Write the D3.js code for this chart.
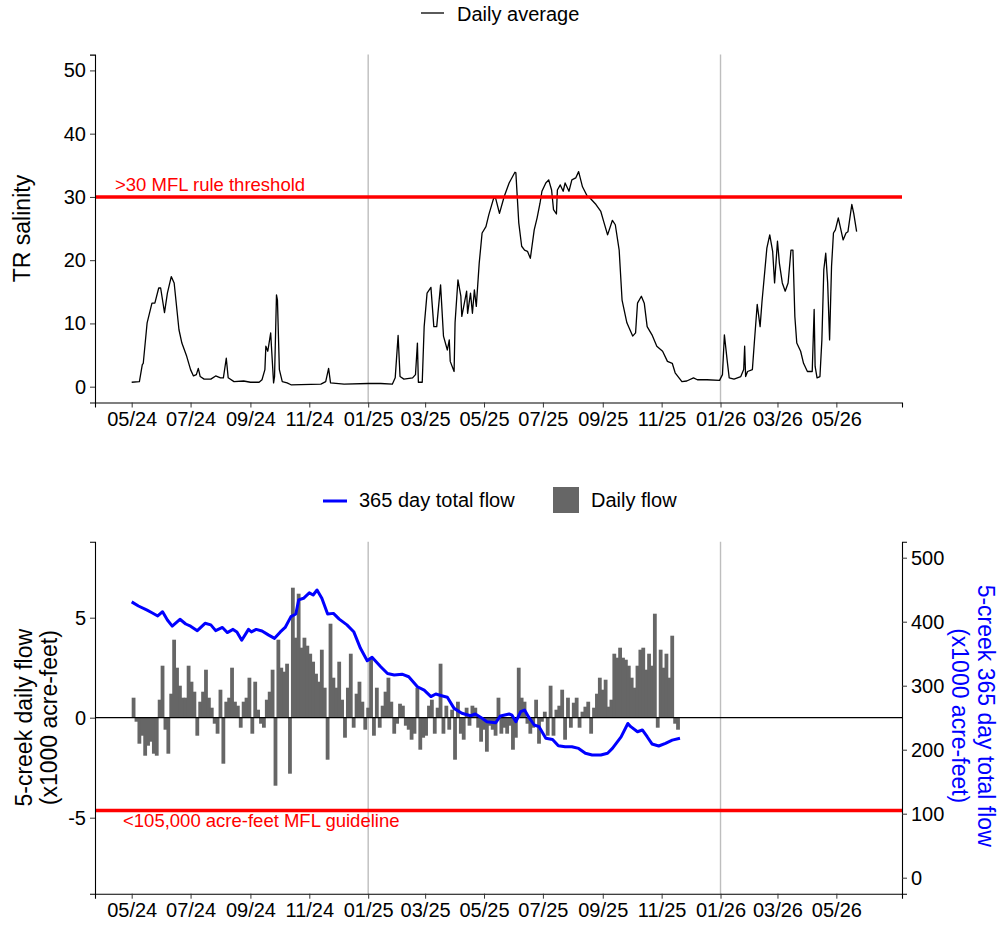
<!DOCTYPE html>
<html>
<head>
<meta charset="utf-8">
<script src="https://cdn.jsdelivr.net/npm/d3@7"></script>
<style>
  body { margin: 0; background: #fff; }
  svg { display: block; font-family: "Liberation Sans", Arial, sans-serif; }
</style>
</head>
<body>
<script>
// ---------------- DATA ----------------
// day index counted from 2024-05-01
const startDate = "2024-05-01";
const xTickLabels = ["2024-05","2024-07","2024-09","2024-11","2025-01","2025-03","2025-05","2025-07","2025-09","2025-11","2026-01","2026-03","2026-05"];
const yearLines = ["2025-01-01","2026-01-01"];
const salTicks = [0,10,20,30,40,50];
const flowTicks = [-5,0,5];
const totalTicks = [0,100,200,300,400,500];
const salThreshold = 30;
const flowGuideline = 105;

// TR salinity daily average: [day, value]
const salinity = [[0,0.7],[8,0.8],[11,3.5],[12,3.7],[16,10.1],[21,13.2],[24,13.2],[28,15.6],[30,15.6],[34,11.7],[37,14.8],[41,17.4],[44,16.4],[49,9.0],[52,6.9],[57,4.8],[61,2.7],[64,1.7],[67,1.9],[69,2.9],[71,1.6],[75,1.2],[82,1.2],[87,1.7],[92,1.4],[95,1.4],[98,4.5],[100,1.4],[106,0.8],[116,0.9],[123,0.7],[132,0.7],[135,1.1],[138,2.7],[139,6.4],[141,5.6],[144,8.5],[145,5.8],[147,0.6],[148,1.6],[150,14.5],[151,13.7],[153,2.7],[156,0.8],[161,0.6],[165,0.3],[196,0.4],[201,0.8],[204,2.9],[206,0.6],[220,0.4],[245,0.5],[258,0.5],[270,0.4],[273,1.4],[276,8.1],[278,1.6],[282,1.2],[291,1.4],[294,1.9],[296,6.9],[297,0.7],[301,0.7],[303,9.5],[306,14.8],[310,15.7],[313,9.5],[316,9.5],[320,16.1],[323,8.0],[327,5.8],[329,7.4],[330,4.0],[334,2.4],[335,10.1],[338,16.9],[341,14.3],[342,11.1],[347,15.1],[348,11.6],[351,14.8],[353,11.6],[355,15.3],[357,12.7],[360,19.5],[363,24.3],[367,25.3],[370,27.2],[375,29.8],[377,29.8],[381,27.4],[386,30.1],[391,32.2],[397,33.9],[398,33.8],[401,25.9],[404,22.2],[407,21.6],[410,21.4],[413,20.3],[417,24.8],[420,26.7],[423,29.0],[425,30.9],[429,32.2],[432,32.7],[435,31.1],[437,28.0],[440,27.3],[441,31.1],[444,31.9],[447,30.9],[449,32.2],[453,30.9],[456,32.7],[460,33.0],[463,34.0],[467,31.6],[472,30.1],[475,29.8],[481,28.8],[486,27.7],[489,26.1],[493,24.0],[498,26.3],[501,25.6],[505,21.6],[508,13.7],[513,10.1],[519,8.0],[522,8.5],[524,13.2],[528,14.3],[531,13.2],[534,9.5],[539,8.2],[544,6.4],[550,5.6],[555,4.0],[560,3.7],[563,2.2],[570,0.8],[575,0.9],[582,1.4],[586,1.1],[596,1.1],[609,1.0],[612,1.9],[614,8.2],[617,4.0],[619,1.4],[624,1.2],[631,1.6],[634,2.7],[635,6.4],[636,1.6],[638,2.4],[643,2.7],[645,6.9],[648,13.0],[651,9.5],[653,13.5],[656,18.5],[658,21.9],[661,24.0],[664,21.4],[666,16.4],[669,23.0],[671,19.5],[674,16.4],[677,15.1],[680,16.4],[683,21.6],[685,21.6],[687,11.1],[689,6.9],[693,5.6],[696,3.7],[700,2.4],[705,2.4],[707,12.2],[708,3.2],[710,1.4],[713,1.6],[715,7.4],[717,18.5],[719,21.1],[721,16.4],[723,7.4],[725,19.0],[727,24.3],[729,24.8],[732,26.7],[734,25.3],[737,23.2],[740,24.3],[742,24.5],[746,28.8],[748,27.4],[751,24.5]];

// 5-creek daily flow (x1000 acre-feet), one value per 3-day bin from start date
const flowBinDays = 3;
const dailyFlow = [1.0,-0.2,-1.3,-0.9,-1.9,-1.4,-1.2,-1.8,-1.9,0.9, 2.6,-0.6,-1.8,1.2,3.9,2.5,1.6,1.0,1.0,2.6, 1.8,1.3,-0.9,0.8,1.3,2.4,1.0,0.5,-0.3,-0.8, 1.4,-2.3,0.8,1.0,2.5,0.8,0.6,-0.5,0.8,1.0, 2.0,-0.8,1.8,0.4,-0.3,-0.5,0.9,1.3,2.4,-3.4, 3.9,2.5,2.3,2.7,-2.8,6.5,4.0,6.2,3.5,4.0, 3.6,
 3.2,2.8,2.2,1.8,3.4,1.5,-2.1,4.7,2.0,1.5, 2.8,0.9,-1.0,1.5,3.2,-0.5,1.2,1.8,0.8,-0.6, 0.5,3.0,-0.9,1.5,-0.5,0.6,1.3,2.0,0.8,-0.8, -0.3,0.7,0.6,-0.4,-0.6,-1.1,-0.8,1.5,-1.6,-1.0, -0.9,0.6,0.9,-0.8,0.5,2.7,-0.8,0.6,-0.6,0.4, -2.1,0.8,-0.8,-1.1,0.5,-0.4,0.6,0.5,-0.5,-1.2, -0.6,-1.7,-0.4,
 -0.6,-0.9,1.0,-0.8,-0.5,-0.8,-0.4,-1.6,-1.0,2.5, 1.0,0.8,-0.3,-0.8,-0.5,0.9,-1.3,-0.2,0.3,-0.9, 1.6,-0.9,0.4,0.6,1.4,-1.1,1.0,-0.5,0.75,1.0, -0.5,0.3,0.55,0.8,-0.8,0.5,1.2,2.0,1.4,1.9, 0.55,0.9,3.2,3.0,3.5,3.0,2.9,2.6,2.0,1.5, 2.6,3.4,3.5,2.4,3.2,2.6,5.2,-0.5,3.4,2.5, 3.2,2.0,4.1,-0.3,-0.6];

// 365 day total flow (x1000 acre-feet): [day, value]
const totalFlow = [[0,431],[7,424.5],[16,418],[21,414],[27,409],[32,415.6],[37,402.7],[42,393],[50,403.8],[56,396.4],[61,393],[68,386],[76,397.5],[82,395],[87,386],[94,391],[99,383],[105,388],[109,384],[114,371],[121,388],[124,384],[129,388],[135,385.5],[142,379],[148,374],[154,384],[159,391],[165,408],[170,412],[173,434],[178,436.6],[184,445],[188,441.7],[192,449.5],[197,436.6],[203,412],[209,413],[215,404],[223,395],[230,384.4],[237,358.4],[244,339],[249,344.4],[258,329.7],[265,319],[272,316.7],[280,318],[287,314],[296,298.4],[303,293],[310,283],[315,287],[322,284],[327,282],[334,264.6],[342,257],[351,253],[356,255.8],[363,249],[368,243.7],[377,242],[382,252.7],[391,255.8],[394,254],[398,243.7],[403,259.4],[407,262],[411,251.6],[417,238.6],[422,236],[429,217.8],[436,216],[442,206],[449,204.7],[456,204.7],[463,202],[470,194.4],[477,191.7],[486,191.7],[493,194.4],[498,202],[507,220],[514,241],[517,236],[524,228],[529,230.8],[534,220.3],[539,209],[546,205.8],[553,210],[560,215],[568,217.8]];

// ---------------- CHART ----------------
const W = 1000, H = 925;
const FONT_TICK = 20, FONT_TITLE = 23, FONT_NOTE = 18.5;
const t0 = Date.parse(startDate + "T00:00:00Z");
const dayDate = d => new Date(t0 + d * 864e5);
const ym = s => new Date(Date.parse(s + (s.length === 7 ? "-01" : "") + "T00:00:00Z"));

const svg = d3.select("body").append("svg").attr("width", W).attr("height", H);

const x = d3.scaleUtc()
  .domain([new Date(Date.UTC(2024, 2, 24)), new Date(Date.UTC(2026, 6, 8))])
  .range([95, 902]);

// ---- TOP PANEL ----
const topP = { t: 54.6, b: 402.5 };
const yS = d3.scaleLinear().domain([-2.5, 52.5]).range([topP.b, topP.t]);

const gTop = svg.append("g");
gTop.selectAll("line.yr").data(yearLines).join("line")
  .attr("x1", d => x(ym(d))).attr("x2", d => x(ym(d)))
  .attr("y1", topP.t).attr("y2", topP.b)
  .attr("stroke", "#bebebe").attr("stroke-width", 1.4);

gTop.append("path").datum(salinity)
  .attr("fill", "none").attr("stroke", "#000").attr("stroke-width", 1.3)
  .attr("stroke-linejoin", "round")
  .attr("d", d3.line().x(d => x(dayDate(d[0]))).y(d => yS(d[1])));

gTop.append("line").attr("x1", 95).attr("x2", 902)
  .attr("y1", yS(salThreshold)).attr("y2", yS(salThreshold))
  .attr("stroke", "#ff0000").attr("stroke-width", 3.5);
gTop.append("text").attr("x", 115).attr("y", yS(salThreshold) - 5.5)
  .attr("fill", "#ff0000").attr("font-size", FONT_NOTE).text(">30 MFL rule threshold");

function styleAxis(g) {
  g.selectAll("text").attr("font-size", FONT_TICK).attr("fill", "#000")
    .attr("font-family", "\"Liberation Sans\", Arial, sans-serif");
  g.selectAll("line").attr("stroke", "#333").attr("stroke-width", 1);
  g.select(".domain").attr("stroke", "#000").attr("stroke-width", 1.1);
}

const xTickDates = xTickLabels.map(ym);
const xAxis = d3.axisBottom(x).tickValues(xTickDates).tickFormat(d3.utcFormat("%m/%y"))
  .tickSizeOuter(0).tickSize(5).tickPadding(4);

gTop.append("g").attr("transform", `translate(0,${topP.b})`).call(xAxis).call(styleAxis);
gTop.append("g").attr("transform", "translate(95,0)")
  .call(d3.axisLeft(yS).tickValues(salTicks).tickSizeOuter(0).tickSize(5).tickPadding(4))
  .call(styleAxis);

svg.append("text").attr("transform", `translate(22,${(topP.t + topP.b) / 2}) rotate(-90)`)
  .attr("text-anchor", "middle").attr("dominant-baseline", "central")
  .attr("font-size", FONT_TITLE).attr("fill", "#000").text("TR salinity");

// top legend
svg.append("line").attr("x1", 421).attr("x2", 444).attr("y1", 13).attr("y2", 13)
  .attr("stroke", "#000").attr("stroke-width", 1.3);
svg.append("text").attr("x", 457).attr("y", 14).attr("dominant-baseline", "central")
  .attr("font-size", FONT_TICK).attr("fill", "#000").text("Daily average");

// ---- BOTTOM PANEL ----
const botP = { t: 541.7, b: 893.7 };
const yF = d3.scaleLinear().domain([-8.8, 8.8]).range([botP.b, botP.t]);
// secondary axis: total = (flow + 8) * 31.25
const yT = d3.scaleLinear().domain([(-8.8 + 8) * 31.25, (8.8 + 8) * 31.25]).range([botP.b, botP.t]);

const gBot = svg.append("g");
gBot.selectAll("line.yr").data(yearLines).join("line")
  .attr("x1", d => x(ym(d))).attr("x2", d => x(ym(d)))
  .attr("y1", botP.t).attr("y2", botP.b)
  .attr("stroke", "#bebebe").attr("stroke-width", 1.4);

gBot.selectAll("rect.flow").data(dailyFlow).join("rect")
  .attr("x", (d, i) => x(dayDate(i * flowBinDays)))
  .attr("width", (d, i) => x(dayDate((i + 1) * flowBinDays)) - x(dayDate(i * flowBinDays)) + 0.9)
  .attr("y", d => yF(Math.max(0, d)))
  .attr("height", d => Math.abs(yF(d) - yF(0)))
  .attr("fill", "#666666");

gBot.append("line").attr("x1", 95).attr("x2", 902).attr("y1", yF(0)).attr("y2", yF(0))
  .attr("stroke", "#000").attr("stroke-width", 1.2);

gBot.append("path").datum(totalFlow)
  .attr("fill", "none").attr("stroke", "#0000ff").attr("stroke-width", 3)
  .attr("stroke-linejoin", "round")
  .attr("d", d3.line().x(d => x(dayDate(d[0]))).y(d => yT(d[1])));

gBot.append("line").attr("x1", 95).attr("x2", 902)
  .attr("y1", yT(flowGuideline)).attr("y2", yT(flowGuideline))
  .attr("stroke", "#ff0000").attr("stroke-width", 3.5);
gBot.append("text").attr("x", 123).attr("y", yT(flowGuideline) + 16)
  .attr("fill", "#ff0000").attr("font-size", FONT_NOTE).text("<105,000 acre-feet MFL guideline");

gBot.append("g").attr("transform", `translate(0,${botP.b})`).call(xAxis).call(styleAxis);
gBot.append("g").attr("transform", "translate(95,0)")
  .call(d3.axisLeft(yF).tickValues(flowTicks).tickFormat(d3.format("d")).tickSizeOuter(0).tickSize(5).tickPadding(4))
  .call(styleAxis);
gBot.append("g").attr("transform", "translate(902,0)")
  .call(d3.axisRight(yT).tickValues(totalTicks).tickSizeOuter(0).tickSize(5).tickPadding(4))
  .call(styleAxis);
// use ASCII hyphen-minus like reference
gBot.selectAll("text").filter(function () { return /^\u2212/.test(this.textContent); })
  .text(function () { return this.textContent.replace("\u2212", "-"); });

const midB = (botP.t + botP.b) / 2;
const leftTitle = svg.append("text").attr("transform", `translate(24,${midB}) rotate(-90)`)
  .attr("text-anchor", "middle").attr("font-size", FONT_TITLE).attr("fill", "#000");
leftTitle.append("tspan").attr("x", 0).attr("dy", "0.35em").text("5-creek daily flow");
leftTitle.append("tspan").attr("x", 0).attr("dy", 25).text("(x1000 acre-feet)");

const rightTitle = svg.append("text").attr("transform", `translate(986,${midB - 2}) rotate(90)`)
  .attr("text-anchor", "middle").attr("font-size", FONT_TITLE).attr("fill", "#0000ff");
rightTitle.append("tspan").attr("x", 0).attr("dy", "0.35em").text("5-creek 365 day total flow");
rightTitle.append("tspan").attr("x", 0).attr("dy", 26).text("(x1000 acre-feet)");

// bottom legend
svg.append("line").attr("x1", 323).attr("x2", 347).attr("y1", 501).attr("y2", 501)
  .attr("stroke", "#0000ff").attr("stroke-width", 3);
svg.append("text").attr("x", 359).attr("y", 500).attr("dominant-baseline", "central")
  .attr("font-size", FONT_TICK).attr("fill", "#000").text("365 day total flow");
svg.append("rect").attr("x", 553).attr("y", 487).attr("width", 26).attr("height", 26)
  .attr("fill", "#666666");
svg.append("text").attr("x", 591).attr("y", 500).attr("dominant-baseline", "central")
  .attr("font-size", FONT_TICK).attr("fill", "#000").text("Daily flow");
</script>
</body>
</html>
